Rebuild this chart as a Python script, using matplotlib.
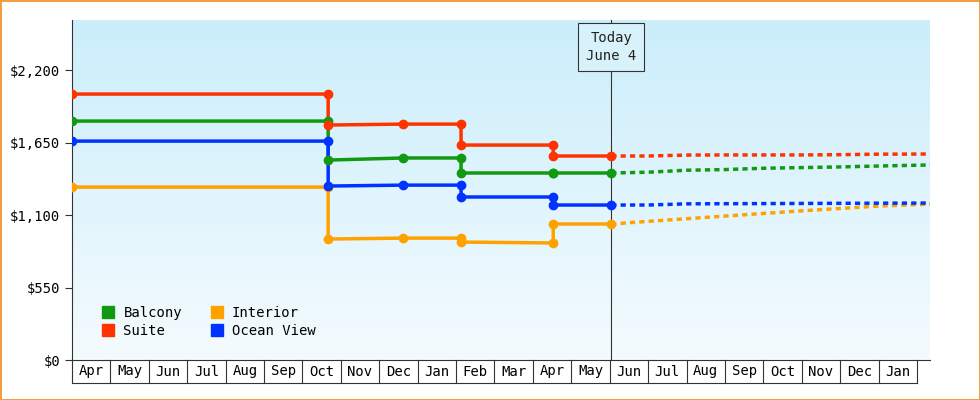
import numpy as np
import matplotlib.pyplot as plt
from matplotlib.colors import LinearSegmentedColormap

months = ["Apr", "May", "Jun", "Jul", "Aug", "Sep", "Oct", "Nov", "Dec", "Jan", "Feb",
          "Mar", "Apr", "May", "Jun", "Jul", "Aug", "Sep", "Oct", "Nov", "Dec", "Jan"]

# x in months from the start of the first Apr box
hist_x = [0.0, 6.67, 6.67, 8.62, 10.13, 10.13, 12.53, 12.53, 14.04]
balcony = [1813, 1813, 1517, 1533, 1533, 1419, 1419, 1419, 1419]
suite = [2018, 2018, 1783, 1790, 1790, 1631, 1631, 1548, 1548]
ocean = [1661, 1661, 1320, 1327, 1327, 1237, 1237, 1176, 1176]
interior = [1312, 1312, 918, 925, 925, 895, 888, 1032, 1032]

fc_x = [14.04, 15.0, 16.0, 17.0, 18.0, 19.0, 20.0, 21.0, 22.34]
balcony_fc = [1419, 1425, 1440, 1445, 1455, 1460, 1465, 1472, 1480]
suite_fc = [1548, 1548, 1555, 1556, 1556, 1556, 1558, 1562, 1563]
ocean_fc = [1176, 1176, 1185, 1186, 1187, 1188, 1189, 1190, 1191]
interior_fc = [1032, 1052, 1072, 1092, 1112, 1132, 1150, 1168, 1183]

# marker indices (points where price changes)
mk = [0, 1, 2, 3, 4, 5, 6, 7, 8]

series = [("Balcony", balcony, balcony_fc, "#119911"),
          ("Suite", suite, suite_fc, "#ff3300"),
          ("Interior", interior, interior_fc, "#ffa200"),
          ("Ocean View", ocean, ocean_fc, "#0033ff")]

plt.rcParams["font.family"] = ["DejaVu Sans Mono"]
fig = plt.figure(figsize=(9.8, 4.0), dpi=100)
fig.patch.set_edgecolor("#f0a040")
fig.patch.set_linewidth(2)
ax = fig.add_axes([72 / 980, 40 / 400, 858 / 980, 340 / 400])

ymax = 2580
xmax = 22.34
cmap = LinearSegmentedColormap.from_list("bg", ["#f4fbfe", "#cbeefb"])
ax.imshow(np.linspace(0, 1, 100).reshape(-1, 1), cmap=cmap, aspect="auto",
          extent=[0, xmax, 0, ymax], origin="lower", zorder=0)

for name, h, f, c in series:
    ax.plot(hist_x, h, color=c, lw=2.5, zorder=3, label=name)
    ax.plot(np.array(hist_x)[mk], np.array(h)[mk], "o", color=c, ms=6, zorder=4)
    ax.plot(fc_x, f, color=c, lw=2.5, ls=(0, (1.5, 1.2)), zorder=3)

today = 14.04
ax.axvline(today, color="#333333", lw=0.8, zorder=2)
ax.text(today, ymax - 80, "Today\nJune 4", ha="center", va="top", fontsize=10,
        color="#222222", linespacing=1.4, zorder=5,
        bbox=dict(boxstyle="square,pad=0.55", fc="#d8f2fb", ec="#333333", lw=0.8))

ax.set_xlim(0, xmax)
ax.set_ylim(0, ymax)
ax.set_yticks([0, 550, 1100, 1650, 2200])
ax.set_yticklabels(["$0", "$550", "$1,100", "$1,650", "$2,200"], fontsize=10)
ax.set_xticks([])
for s in ["top", "right"]:
    ax.spines[s].set_visible(False)
ax.spines["left"].set_color("#333333")
ax.spines["bottom"].set_color("#333333")
ax.tick_params(axis="y", length=5, color="#333333")

# month boxes below the axis
tr = ax.get_xaxis_transform()
box_bottom = -23 / 340
ax.plot([0, len(months)], [box_bottom, box_bottom], color="#333333", lw=0.8,
        transform=tr, clip_on=False)
for i in range(len(months) + 1):
    ax.plot([i, i], [0, box_bottom], color="#333333", lw=0.8, transform=tr, clip_on=False)
for i, m in enumerate(months):
    ax.text(i + 0.5, box_bottom / 2, m, ha="center", va="center", fontsize=10,
            transform=tr, clip_on=False)

handles = [plt.Line2D([], [], marker="s", ls="", color=c, ms=9) for _, _, _, c in series]
ax.legend(handles, [s[0] for s in series], loc="lower left", ncol=2, frameon=False,
          fontsize=10, handletextpad=0.1, columnspacing=1.5, borderaxespad=1.2,
          labelspacing=0.3)

fig.savefig("out.png", dpi=100, edgecolor=fig.get_edgecolor())
